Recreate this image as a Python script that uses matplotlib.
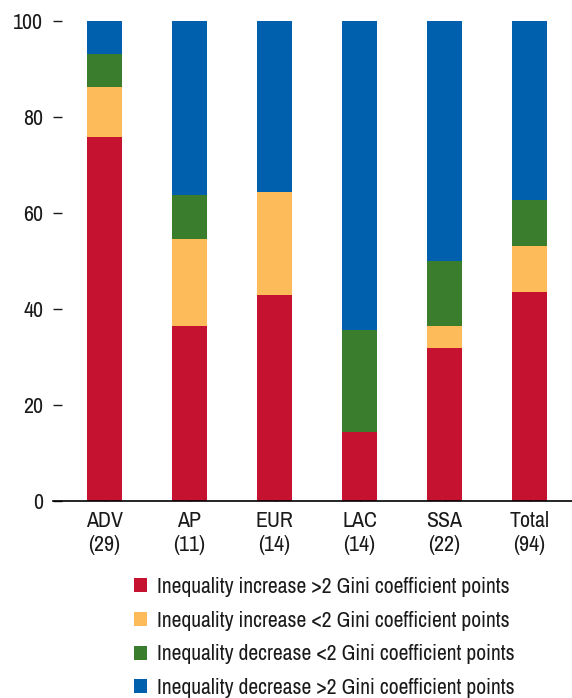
import matplotlib
matplotlib.use("Agg")
import matplotlib.pyplot as plt
from matplotlib.patches import Patch
import numpy as np

plt.rcParams['font.family'] = ['Archivo Narrow', 'Roboto Condensed', 'Liberation Sans', 'DejaVu Sans']
plt.rcParams['text.color'] = '#1a1a1a'
plt.rcParams['xtick.color'] = '#1a1a1a'
plt.rcParams['ytick.color'] = '#1a1a1a'

categories = ["ADV\n(29)", "AP\n(11)", "EUR\n(14)", "LAC\n(14)", "SSA\n(22)", "Total\n(94)"]
inc_gt2 = [75.9, 36.4, 42.9, 14.3, 31.8, 43.6]
inc_lt2 = [10.3, 18.2, 21.4, 0.0, 4.6, 9.6]
dec_lt2 = [6.9, 9.1, 0.0, 21.4, 13.6, 9.6]
dec_gt2 = [6.9, 36.3, 35.7, 64.3, 50.0, 37.2]
series_labels = ["Inequality increase >2 Gini coefficient points",
                 "Inequality increase <2 Gini coefficient points",
                 "Inequality decrease <2 Gini coefficient points",
                 "Inequality decrease >2 Gini coefficient points"]
colors = ["#C41230", "#FDBB5A", "#3A7D2C", "#0060AE"]
yticks = [0, 20, 40, 60, 80, 100]

fig = plt.figure(figsize=(5.72, 6.98), dpi=100)
ax = fig.add_axes([53/572, (698-501)/698, (572-53)/572, (501-21)/698])

x = np.arange(len(categories))
bottom = np.zeros(len(categories))
for vals, c in zip([inc_gt2, inc_lt2, dec_lt2, dec_gt2], colors):
    ax.bar(x, vals, width=0.41, bottom=bottom, color=c, linewidth=0, zorder=2)
    bottom += np.array(vals)

ax.set_xlim(-0.606, 5.5)
ax.set_ylim(0, 100)
ax.set_yticks(yticks)
ax.set_xticks(x)
ax.set_xticklabels(categories, fontsize=15.8)
ax.tick_params(axis='y', direction='in', length=6.5, width=1, pad=7, labelsize=15.8)
ax.tick_params(axis='x', direction='in', length=10, width=1, pad=7.5, labelsize=15.8)
for s in ['top', 'right', 'left']:
    ax.spines[s].set_visible(False)
ax.spines['bottom'].set_linewidth(1.2)
ax.spines['bottom'].set_zorder(3)

handles = [Patch(facecolor=c, edgecolor='none') for c in colors]
fig.legend(handles, series_labels, loc='upper left', bbox_to_anchor=(134/572, 1 - 577/698),
           frameon=False, fontsize=15.6, handlelength=0.62, handleheight=0.62,
           handletextpad=0.45, labelspacing=0.63, borderaxespad=0, borderpad=0)

fig.savefig("out.png", dpi=100)
